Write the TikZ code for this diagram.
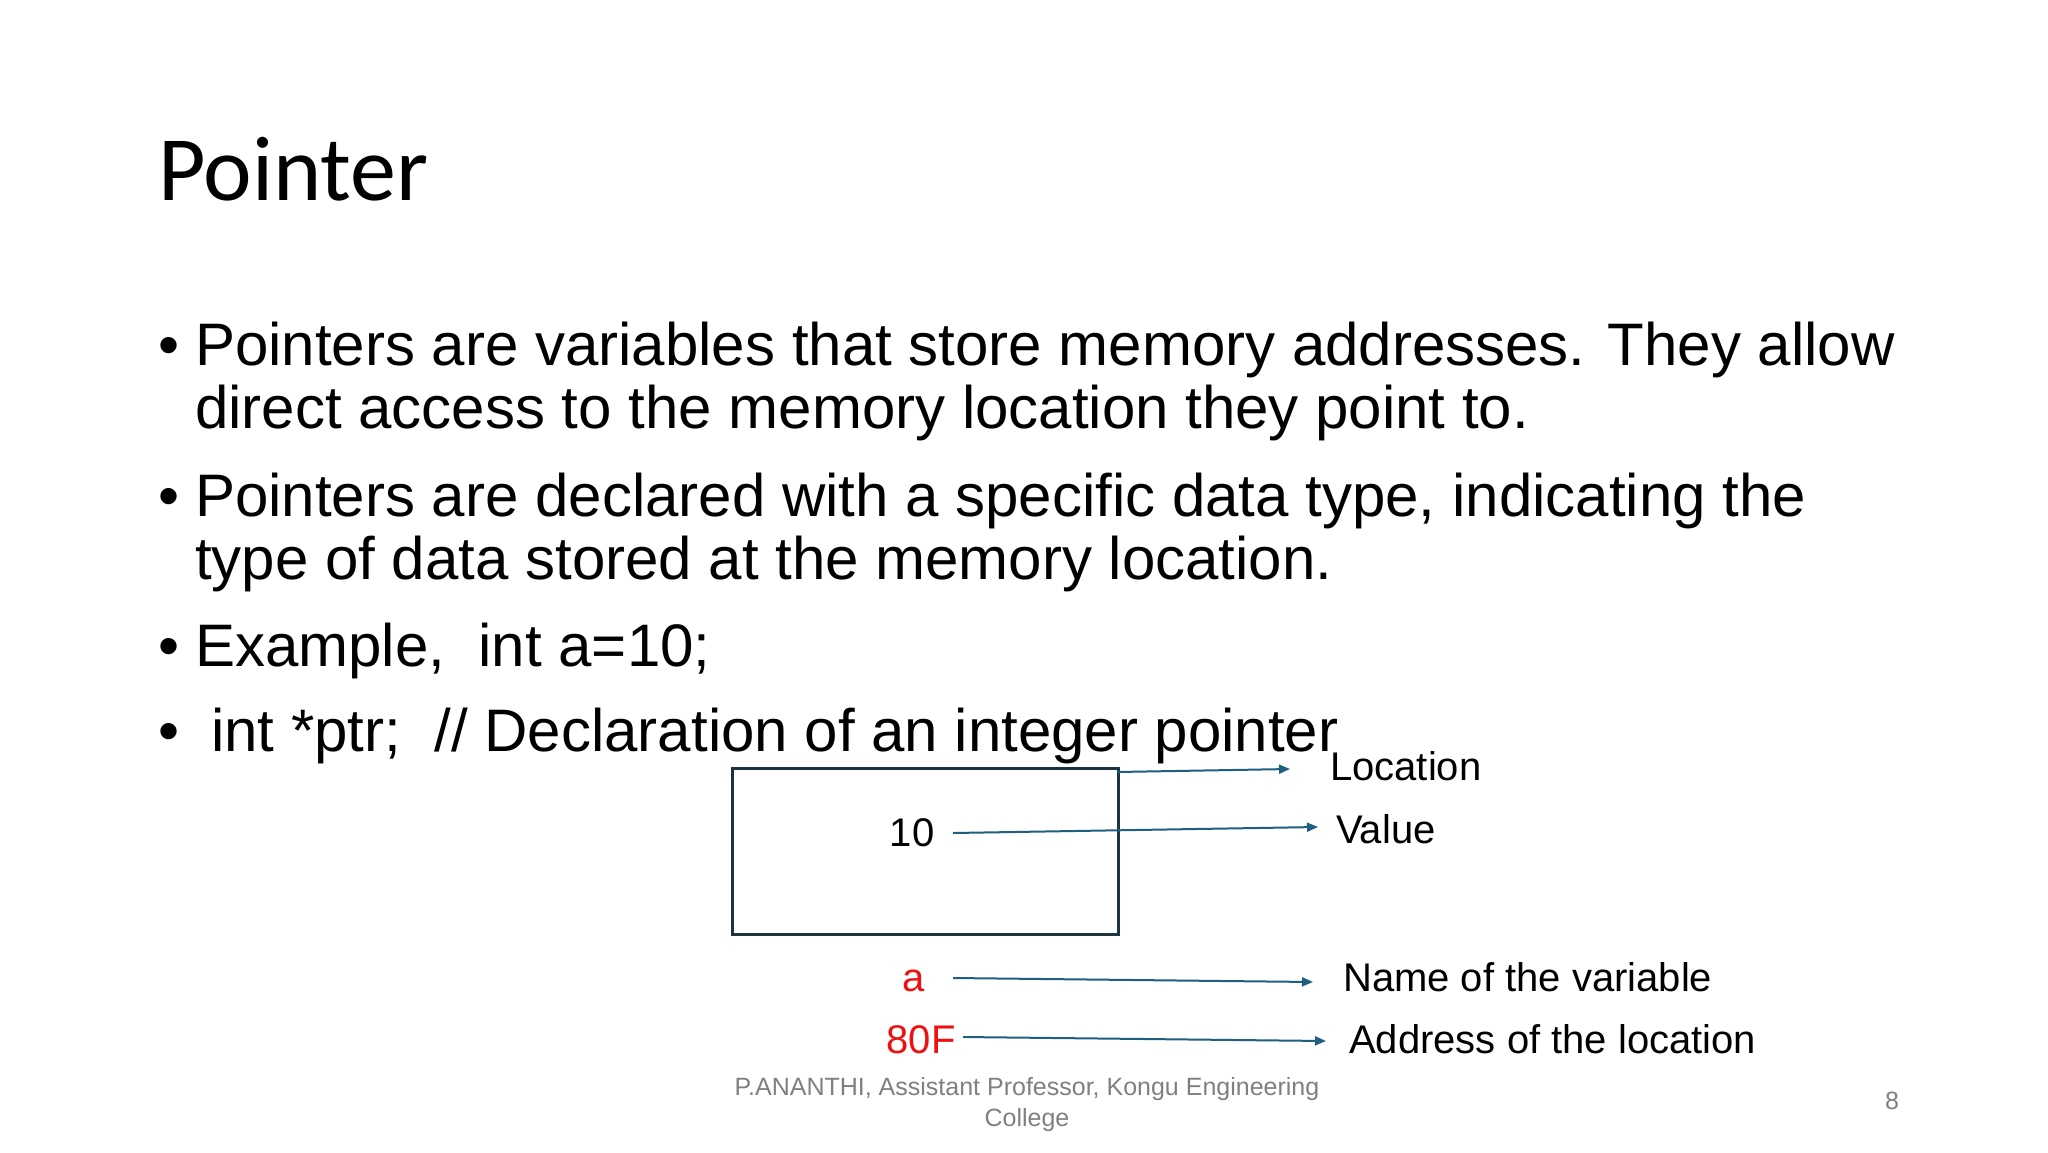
\documentclass[tikz,border=0pt]{standalone}
\usepackage{fontspec}
\setmainfont{Liberation Sans}
\newfontfamily\titlefont{Carlito}
\usetikzlibrary{arrows.meta}
\definecolor{arr}{HTML}{1F5F7F}
\definecolor{boxc}{HTML}{1C3340}
\definecolor{redt}{HTML}{EE1111}
\tikzset{
 bul/.style={anchor=base west,inner sep=0pt,font=\fontsize{60}{72}\selectfont},
 lab/.style={anchor=base west,inner sep=0pt,font=\fontsize{40}{48}\selectfont},
 cod/.style={anchor=base,inner sep=0pt,font=\fontsize{40}{48}\selectfont},
 conn/.style={draw=arr,line width=2pt,-{Triangle[length=11pt,width=9pt]}},
 foot/.style={anchor=base,inner sep=0pt,text=gray,font=\fontsize{25}{31}\selectfont},
}
\begin{document}
\begin{tikzpicture}[x=1pt,y=1pt,yscale=-1]
\useasboundingbox[fill=white] (0,0) rectangle (2048,1152);
\node[anchor=base west,inner sep=0pt,font=\titlefont\fontsize{92}{100}\selectfont] (title) at (158,200) {Pointer};
\node[bul] (d1) at (158,365) {•};
\node[bul] (b1) at (195,365) {Pointers are variables that store memory addresses. They allow};
\node[bul] (b1b) at (195,428) {direct access to the memory location they point to.};
\node[bul] (d2) at (158,516) {•};
\node[bul] (b2) at (195,516) {Pointers are declared with a specific data type, indicating the};
\node[bul] (b2b) at (195,579) {type of data stored at the memory location.};
\node[bul] (d3) at (158,666) {•};
\node[bul] (b3) at (195,666) {Example,\ \ int a=10;};
\node[bul] (d4) at (158,751) {•};
\node[bul] (b4) at (211,751) {int *ptr;\ \ // Declaration of an integer pointer};
\node[draw=boxc,line width=3pt,minimum width=386pt,minimum height=166pt,anchor=north west] (box) at (731,767) {};
\node[cod] (ten) at (912,846) {10};
\node[cod,text=redt] (a) at (914,991) {a};
\node[cod,text=redt] (addr) at (921,1053) {80F};
\node[lab] (loc) at (1330,780) {Location};
\node[lab] (val) at (1336,843) {Value};
\node[lab] (nm) at (1343,991) {Name of the variable};
\node[lab] (ad) at (1349,1053) {Address of the location};
\coordinate (l0) at (1117,772); \coordinate (l1) at (1290,769);
\coordinate (v0) at (953,833); \coordinate (v1) at (1318,827);
\coordinate (a0) at (953,978); \coordinate (a1) at (1313,982);
\coordinate (f0) at (963,1037); \coordinate (f1) at (1326,1041);
\draw[conn] (l0) -- (l1);
\draw[conn] (v0) -- (v1);
\draw[conn] (a0) -- (a1);
\draw[conn] (f0) -- (f1);
\node[foot] (foot1) at (1027,1095) {P.ANANTHI, Assistant Professor, Kongu Engineering};
\node[foot] (foot2) at (1027,1126) {College};
\node[foot] (pg) at (1892,1109) {8};
\end{tikzpicture}
\end{document}
